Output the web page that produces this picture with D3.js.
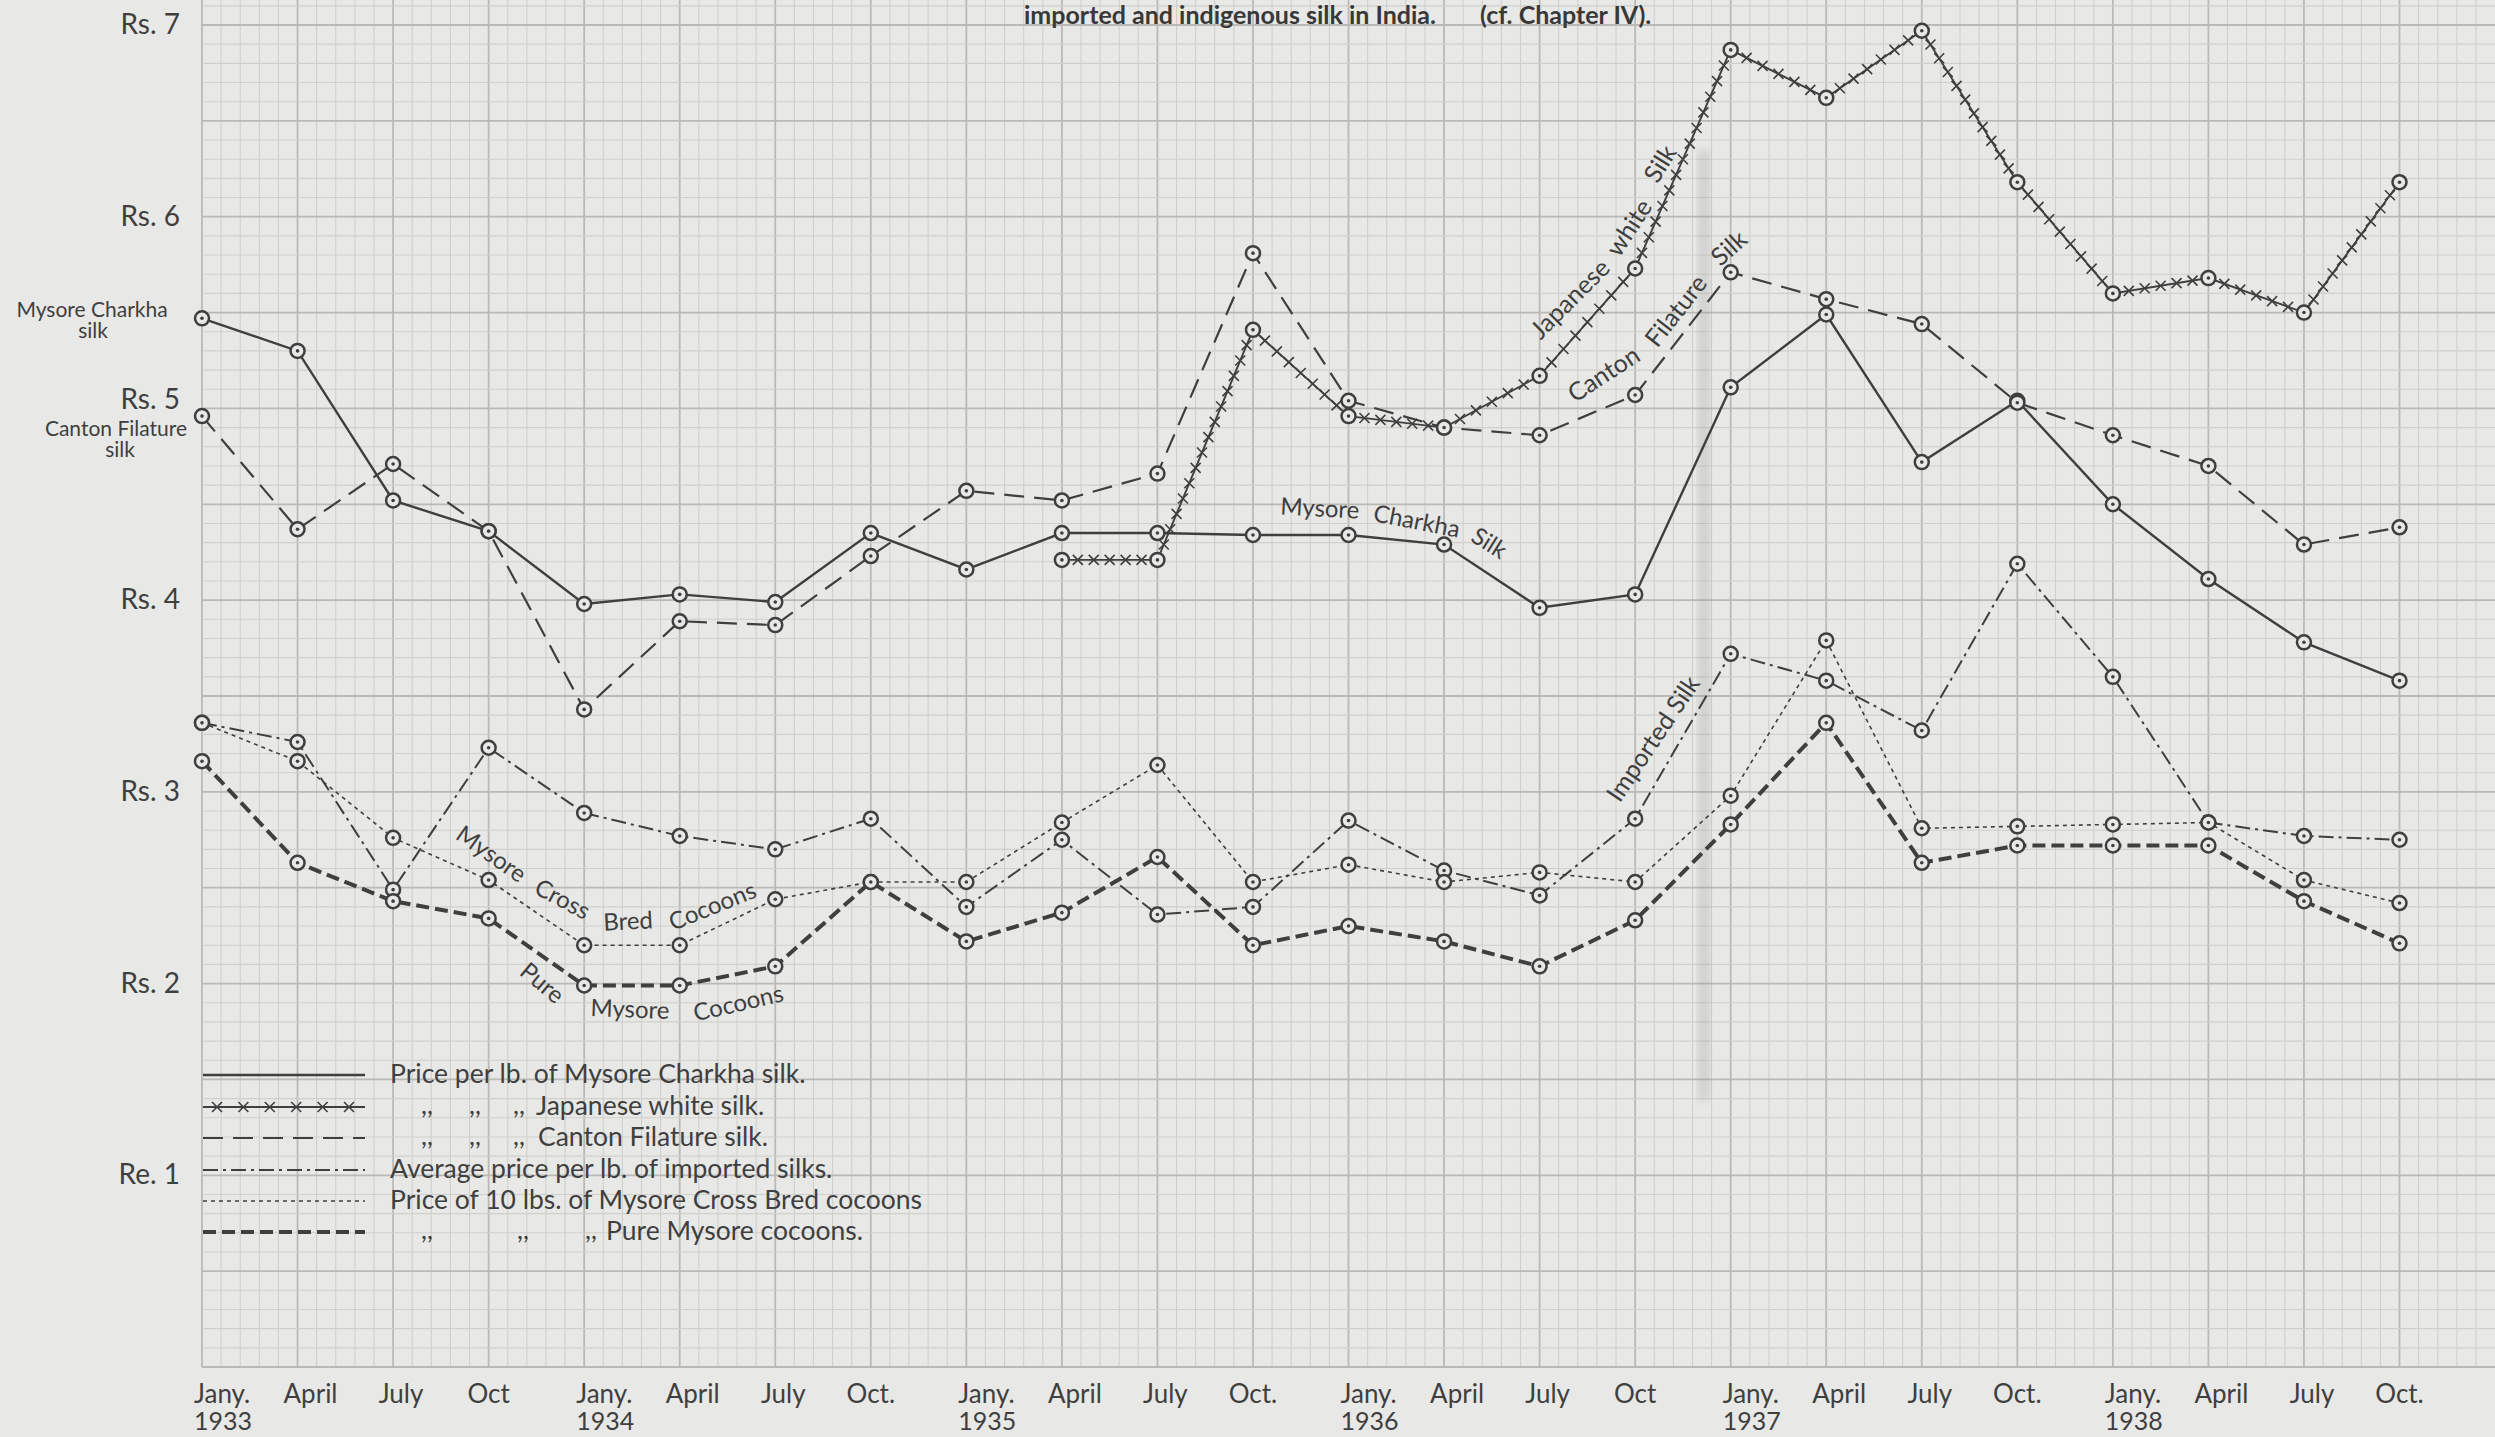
<!DOCTYPE html>
<html><head><meta charset="utf-8">
<script src="https://cdn.jsdelivr.net/npm/d3@7"></script>
<style>html,body{margin:0;padding:0;background:#e8e8e6;overflow:hidden}</style>
</head><body><svg id="c" width="2495" height="1437"></svg>
<script>
// ---------- data ----------
const quarterLabels = ["Jany.","April","July","Oct","Jany.","April","July","Oct.","Jany.","April","July","Oct.",
                       "Jany.","April","July","Oct","Jany.","April","July","Oct.","Jany.","April","July","Oct."];
const yearLabels = ["1933","1934","1935","1936","1937","1938"];
const yTickValues = [1,2,3,4,5,6,7];
const yTickLabels = ["Re. 1","Rs. 2","Rs. 3","Rs. 4","Rs. 5","Rs. 6","Rs. 7"];

// price per lb. (Rs.), quarterly Jan 1933 .. Oct 1938
const charkhaSilk  = [5.47,5.30,4.52,4.36,3.98,4.03,3.99,4.35,4.16,4.35,4.35,4.34,4.34,4.29,3.96,4.03,5.11,5.49,4.72,5.04,4.50,4.11,3.78,3.58];
const japaneseSilk = [null,null,null,null,null,null,null,null,null,4.21,4.21,5.41,4.96,4.90,5.17,5.73,6.87,6.62,6.97,6.18,5.60,5.68,5.50,6.18];
const cantonSilk   = [4.96,4.37,4.71,4.36,3.43,3.89,3.87,4.23,4.57,4.52,4.66,5.81,5.04,4.90,4.86,5.07,5.71,5.57,5.44,5.03,4.86,4.70,4.29,4.38];
const importedSilk = [3.36,3.26,2.49,3.23,2.89,2.77,2.70,2.86,2.40,2.75,2.36,2.40,2.85,2.59,2.46,2.86,3.72,3.58,3.32,4.19,3.60,2.84,2.77,2.75];
const crossBredCocoons = [3.36,3.16,2.76,2.54,2.20,2.20,2.44,2.53,2.53,2.84,3.14,2.53,2.62,2.53,2.58,2.53,2.98,3.79,2.81,2.82,2.83,2.84,2.54,2.42];
const pureMysoreCocoons = [3.16,2.63,2.43,2.34,1.99,1.99,2.09,2.53,2.22,2.37,2.66,2.20,2.30,2.22,2.09,2.33,2.83,3.36,2.63,2.72,2.72,2.72,2.43,2.21];

const legendTexts = ["Price per lb. of Mysore Charkha silk.","Japanese white silk.","Canton Filature silk.",
                     "Average price per lb. of imported silks.","Price of 10 lbs. of Mysore Cross Bred cocoons","Pure Mysore cocoons."];
const titleParts = ["imported and indigenous silk in India.", "(cf. Chapter IV)."];

// ---------- setup ----------
const W = 2495, H = 1437;
const paper = "#e8e8e6", ink = "#3f3f3f";
const FONT = "Lato, 'Open Sans', 'DejaVu Sans', sans-serif";
const x = d3.scaleLinear().domain([0, 23]).range([202, 2399.5]);
const y = d3.scaleLinear().domain([0, 7]).range([1367, 25]);
const svg = d3.select("#c").style("font-family", FONT);

svg.append("rect").attr("width", W).attr("height", H).attr("fill", paper);

// ---------- graph paper grid ----------
const grid = svg.append("g");
const nV = Math.ceil((W - x(0)) / (x(0.2) - x(0)));
d3.range(0, nV + 1).forEach(i => {
  const xx = x(i / 5);
  if (xx > W) return;
  grid.append("line").attr("x1", xx).attr("x2", xx).attr("y1", 0).attr("y2", y(0))
    .attr("stroke", i % 5 === 0 ? "#bab9b6" : "#cfcfcc").attr("stroke-width", i % 5 === 0 ? 1.8 : 1.1);
});
d3.range(0, 72).forEach(i => {
  const yy = y(i / 10);
  if (yy < 0) return;
  grid.append("line").attr("x1", x(0)).attr("x2", W).attr("y1", yy).attr("y2", yy)
    .attr("stroke", i % 5 === 0 ? "#bab9b6" : "#cfcfcc").attr("stroke-width", i % 5 === 0 ? 1.8 : 1.1);
});
// faint fold shadow of the scanned sheet
const defs = svg.append("defs");
defs.append("filter").attr("id", "blur").append("feGaussianBlur").attr("stdDeviation", 4);
svg.append("rect").attr("x", 1698).attr("y", 150).attr("width", 12).attr("height", 950)
  .attr("fill", "#8a8a88").attr("opacity", 0.25).attr("filter", "url(#blur)");

// ---------- axes labels ----------
const yAx = svg.append("g");
yTickValues.forEach((v, i) => {
  yAx.append("text").attr("x", 180).attr("y", y(v) + (v === 5 ? -10 : -2))
    .attr("text-anchor", "end").attr("dominant-baseline", "central")
    .attr("font-size", 28).attr("fill", ink).text(yTickLabels[i]);
});
const xAx = svg.append("g");
quarterLabels.forEach((lab, i) => {
  const q = i % 4;
  let xx = x(i), anchor = "middle";
  if (q === 0) { xx -= 8; anchor = "start"; }
  else if (q === 1) xx += 13;
  else if (q === 2) xx += 8;
  xAx.append("text").attr("x", xx).attr("y", 1403).attr("text-anchor", anchor)
    .attr("font-size", 26).attr("fill", ink).text(lab);
});
yearLabels.forEach((yr, k) => {
  xAx.append("text").attr("x", x(k * 4) - 8).attr("y", 1430).attr("font-size", 25)
    .attr("fill", ink).text(yr);
});

// ---------- title (top of the sheet) ----------
svg.append("text").attr("x", 1024).attr("y", 24).attr("font-size", 25).attr("font-weight", 700)
  .attr("fill", "#383838").text(titleParts[0]);
svg.append("text").attr("x", 1480).attr("y", 24).attr("font-size", 25).attr("font-weight", 700)
  .attr("fill", "#383838").text(titleParts[1]);

// ---------- series ----------
const series = [
  {data: charkhaSilk, dash: null, w: 2.4},
  {data: cantonSilk, dash: "20,10", w: 2.2},
  {data: japaneseSilk, dash: null, w: 1.9, cross: true},
  {data: importedSilk, dash: "15,5,3,5", w: 2},
  {data: crossBredCocoons, dash: "4,4", w: 1.6},
  {data: pureMysoreCocoons, dash: "13,6", w: 4}
];
const line = d3.line().defined(d => d != null).x((d, i) => x(i)).y(d => y(d));
const crossPath = "M-5,-5L5,5M-5,5L5,-5";
const lines = svg.append("g").attr("fill", "none").attr("stroke", ink);
series.forEach(s => {
  lines.append("path").attr("d", line(s.data)).attr("stroke-width", s.w)
    .attr("stroke-dasharray", s.dash).attr("stroke-linecap", "butt");
  if (s.cross) {
    for (let i = 0; i < s.data.length - 1; i++) {
      if (s.data[i] == null || s.data[i + 1] == null) continue;
      const x0 = x(i), y0 = y(s.data[i]), x1 = x(i + 1), y1 = y(s.data[i + 1]);
      const L = Math.hypot(x1 - x0, y1 - y0), n = Math.max(2, Math.round(L / 17));
      for (let k = 1; k < n; k++) {
        const t = k / n;
        lines.append("path").attr("d", crossPath).attr("stroke-width", 1.6)
          .attr("transform", `translate(${x0 + t * (x1 - x0)},${y0 + t * (y1 - y0)})`);
      }
    }
  }
});
const marks = svg.append("g");
series.forEach(s => {
  s.data.forEach((d, i) => {
    if (d == null) return;
    marks.append("circle").attr("cx", x(i)).attr("cy", y(d)).attr("r", 7)
      .attr("fill", paper).attr("stroke", ink).attr("stroke-width", 2.5);
    marks.append("circle").attr("cx", x(i)).attr("cy", y(d)).attr("r", 1.8).attr("fill", ink);
  });
});

// ---------- labels on the curves ----------
const labs = svg.append("g").attr("fill", ink);
function lab(t, cx, cy, ang, size) {
  labs.append("text").attr("transform", `translate(${cx},${cy}) rotate(${ang})`)
    .attr("text-anchor", "middle").attr("dominant-baseline", "central")
    .attr("font-size", size).text(t);
}
lab("Mysore Charkha", 92, 308, 0, 21); lab("silk", 93, 329, 0, 21);
lab("Canton Filature", 116, 427, 0, 21); lab("silk", 120, 448, 0, 21);
lab("Japanese", 1569, 298, -45, 25); lab("white", 1628, 227, -57, 25); lab("Silk", 1659, 163, -58, 25);
lab("Canton", 1603, 373, -33, 25); lab("Filature", 1675, 310, -52, 25); lab("Silk", 1728, 247, -42, 25);
lab("Imported Silk", 1652, 738, -56, 25);
lab("Mysore", 1320, 507, 3, 24); lab("Charkha", 1417, 520, 11, 24); lab("Silk", 1490, 542, 32, 24);
lab("Mysore", 492, 853, 35, 24); lab("Cross", 563, 898, 28, 24); lab("Bred", 628, 920, -3, 24); lab("Cocoons", 712, 905, -22, 24);
lab("Pure", 543, 982, 40, 24); lab("Mysore", 630, 1008, 2, 24); lab("Cocoons", 738, 1002, -13, 24);

// ---------- legend ----------
const lg = svg.append("g");
const rowsY = [1073, 1105, 1136, 1168, 1199, 1230];
const styleIdx = [0, 2, 1, 3, 4, 5];
rowsY.forEach((ry, r) => {
  const s = series[styleIdx[r]];
  lg.append("line").attr("x1", 203).attr("x2", 365).attr("y1", ry + 2).attr("y2", ry + 2)
    .attr("stroke", ink).attr("stroke-width", s.w).attr("stroke-dasharray", s.dash);
  if (s.cross) {
    d3.range(6).forEach(k => lg.append("path").attr("d", crossPath).attr("fill", "none")
      .attr("stroke", ink).attr("stroke-width", 1.6).attr("transform", `translate(${217 + k * 26.4},${ry + 2})`));
  }
});
const dittos = [null, [421, 469, 513], [421, 469, 513], null, null, [421, 517, 585]];
const textX = [390, 536, 538, 390, 390, 606];
rowsY.forEach((ry, r) => {
  if (dittos[r]) dittos[r].forEach(dx => lg.append("text").attr("x", dx).attr("y", ry + 9)
    .attr("font-size", 26).attr("fill", ink).text(",,"));
  lg.append("text").attr("x", textX[r]).attr("y", ry).attr("dominant-baseline", "central")
    .attr("font-size", 26.5).attr("fill", ink).text(legendTexts[r]);
});
</script></body></html>
